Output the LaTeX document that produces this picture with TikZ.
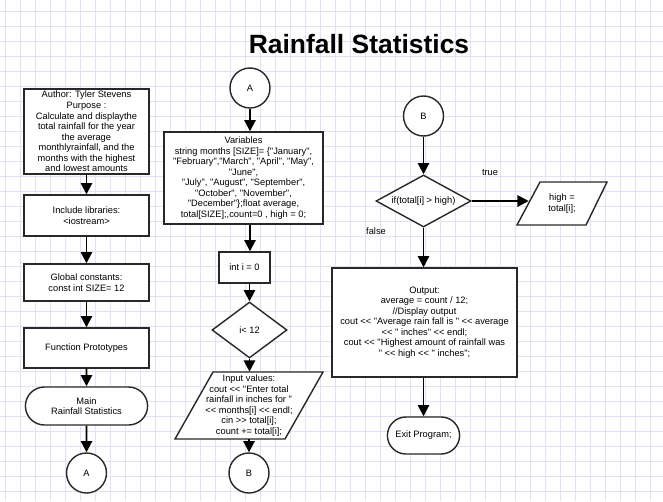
\documentclass[tikz,border=0pt]{standalone}
\usepackage{fontspec}
\setmainfont{Liberation Sans}[Ligatures=TeXOff]
\usetikzlibrary{shapes,arrows.meta,calc}
\newcommand{\pxl}{0.025cm}
\definecolor{gridcol}{RGB}{226,226,242}
\definecolor{edgecol}{RGB}{40,40,40}
\tikzset{
  every picture/.style = {
    x=\pxl, y=-\pxl,
    font=\fontsize{6.6}{7.5}\selectfont
  }
}
\tikzset{
  block/.style={
    draw=edgecol,
    line width=1pt,
    fill=white,
    shape=rectangle,
    align=center,
    inner sep=1pt
  },
  term/.style={
    block,
    shape=rounded rectangle
  },
  conn/.style={
    block,
    shape=circle,
    minimum size=40*\pxl
  },
  decision/.style={
    block,
    shape=diamond,
    inner sep=0pt
  },
  % text of a slanted input/output box, its outline is drawn apart
  iotext/.style={
    shape=rectangle,
    align=center,
    inner sep=0pt
  },
  ioshape/.style={
    draw=edgecol,
    line width=1pt,
    fill=white,
    line join=miter
  },
  flow/.style={
    line width=1.4pt,
    -{Triangle[width=8pt,length=8pt]}
  },
  gridline/.style={
    draw=gridcol,
    line width=0.5pt
  }
}

\begin{document}
\begin{tikzpicture}
  \useasboundingbox (0,0) rectangle (663,501);
  \fill[white] (0,0) rectangle (663,501);
  % background grid
  \foreach \gx in {5,20,...,663}
    \draw[gridline] (\gx,0) -- (\gx,501);
  \foreach \gy in {11.7,26.7,...,501}
    \draw[gridline] (0,\gy) -- (663,\gy);

  \node[font=\fontsize{18.8}{22}\selectfont\bfseries] (title) at (359,44) {Rainfall Statistics};

  % left column
  \node[block, minimum width=125*\pxl, minimum height=85*\pxl] (author) at (86.5,131.5)
    {Author: Tyler Stevens\\Purpose :\\Calculate and displaythe\\total rainfall for the year\\the average\\monthlyrainfall, and the\\months with the highest\\and lowest amounts};
  \node[block, minimum width=125*\pxl, minimum height=41*\pxl] (incl) at (86.5,215.5)
    {Include libraries:\\<iostream>};
  \node[block, minimum width=125*\pxl, minimum height=37*\pxl] (glob) at (86.5,282.5)
    {Global constants:\\const int SIZE= 12};
  \node[block, minimum width=125*\pxl, minimum height=40*\pxl] (proto) at (86.5,348)
    {Function Prototypes};
  \node[term, minimum width=125*\pxl, minimum height=38*\pxl] (mainprog) at (86.5,406)
    {Main\\Rainfall Statistics};
  \node[conn] (connA1) at (86.5,473) {A};

  % middle column
  \node[conn] (connA2) at (250,88) {A};
  \node[block, minimum width=159*\pxl, minimum height=92*\pxl] (vars) at (243.5,178)
    {Variables\\string months [SIZE]= \{"January",\\"February","March", "April", "May",\\"June",\\"July", "August", "September",\\"October", "November",\\"December"\};float average,\\total[SIZE];,count=0 , high = 0;};
  \node[block, minimum width=51*\pxl, minimum height=31*\pxl] (initi) at (244.5,267.5) {int i = 0};
  \node[decision, aspect=1.34, minimum width=75*\pxl, minimum height=56*\pxl] (cond) at (249.5,330) {i< 12};
  \filldraw[ioshape] (175,439) -- (285,439) -- (323,372) -- (213,372) -- cycle;
  \node[iotext, minimum width=110*\pxl, minimum height=67*\pxl] (input) at (249,405.5)
    {Input values:\\cout << "Enter total\\rainfall in inches for "\\<< months[i] << endl;\\cin >> total[i];\\count += total[i];};
  \node[conn] (connB1) at (249,473) {B};

  % right column
  \node[conn] (connB2) at (423.5,116) {B};
  \node[decision, aspect=1.83, minimum width=95*\pxl, minimum height=52*\pxl] (ifhigh) at (423.5,201) {if(total[i] > high)};
  \filldraw[ioshape] (517,225) -- (586,225) -- (607,182) -- (540,182) -- cycle;
  \node[iotext, minimum width=66*\pxl, minimum height=43*\pxl] (sethigh) at (562,203.5)
    {high =\\total[i];};
  \node[block, minimum width=185*\pxl, minimum height=109*\pxl] (output) at (424.5,322.5)
    {Output:\\average = count / 12;\\//Display output\\cout << "Average rain fall is " << average\\<< " inches" << endl;\\cout << "Highest amount of rainfall was\\" << high << " inches";};
  \node[term, minimum width=75*\pxl, minimum height=37*\pxl] (exitprog) at (423.5,435.5) {Exit Program;};
  \node (truelbl) at (490,173) {true};
  \node (falselbl) at (376,231) {false};

  \draw[flow] (author) -- (incl);
  \draw[flow] (incl) -- (glob);
  \draw[flow] (glob) -- (proto);
  \draw[flow] (proto) -- (mainprog);
  \draw[flow] (mainprog) -- (connA1);

  \draw[flow] (connA2.south) -- (connA2.south |- vars.north);
  \draw[flow] (connA2.south |- vars.south) -- (connA2.south |- initi.north);
  \draw[flow] (cond.north |- initi.south) -- (cond.north);
  \draw[flow] (cond.south) -- (cond.south |- input.north);
  \draw[flow] (connB1.north |- input.south) -- (connB1.north);

  \draw[flow] (connB2) -- (ifhigh);
  \draw[flow] (ifhigh.east) -- (ifhigh.east -| sethigh.west);
  \draw[flow] (ifhigh.south) -- (ifhigh.south |- output.north);
  \draw[flow] (ifhigh.south |- output.south) -- (exitprog.north);
\end{tikzpicture}
\end{document}
